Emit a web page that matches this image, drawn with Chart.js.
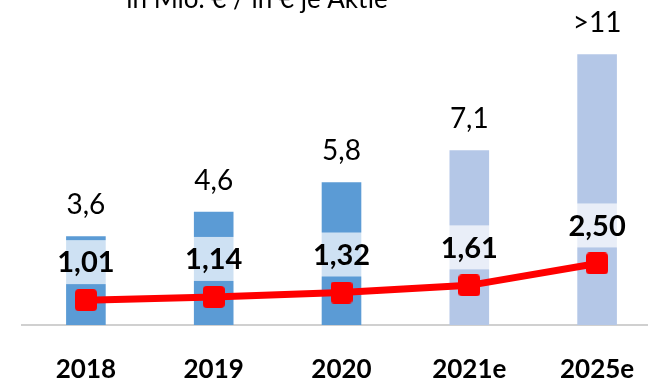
<!DOCTYPE html>
<html>
<head>
<meta charset="utf-8">
<script src="https://cdn.jsdelivr.net/npm/chart.js@4"></script>
<style>
  html, body { margin: 0; padding: 0; overflow: hidden; background: #fff; }
  #wrap { width: 680px; height: 381px; }
</style>
</head>
<body>
<div id="wrap"><canvas id="grafico-umsatz"></canvas></div>
<script>
var jahre = ["2018", "2019", "2020", "2021e", "2025e"];
var umsatz = [3.6, 4.6, 5.8, 7.1, 11];
var umsatzPrefix = ["", "", "", "", ">"];
var ergebnisJeAktie = [1.01, 1.14, 1.32, 1.61, 2.5];
var istWerte = 3; // 2018-2020 are actuals, the rest estimates

var FONT = "Lato, 'Open Sans', sans-serif";

function zahl(v, stellen) {
  if (stellen === 1 && Number.isInteger(v)) return String(v);
  return v.toFixed(stellen).replace(".", ",");
}

// rounded square marker for the line
var marker = document.createElement("canvas");
marker.width = 22;
marker.height = 22;
var mctx = marker.getContext("2d");
mctx.fillStyle = "#ff0000";
mctx.beginPath();
mctx.roundRect(0, 0, 22, 22, 4);
mctx.fill();

var labelPlugin = {
  id: "labels",
  afterDatasetsDraw: function (chart) {
    var ctx = chart.ctx;
    ctx.save();

    // title line at the top edge
    ctx.fillStyle = "#000";
    ctx.font = "26px " + FONT;
    ctx.textAlign = "center";
    ctx.textBaseline = "alphabetic";
    ctx.fillText("in Mio. \u20ac / in \u20ac je Aktie", 257, 8);

    // revenue labels above the bars
    ctx.font = "28px " + FONT;
    ctx.textBaseline = "middle";
    chart.getDatasetMeta(0).data.forEach(function (bar, i) {
      ctx.fillText(umsatzPrefix[i] + zahl(umsatz[i], 1), bar.x, bar.y - 31);
    });

    // EPS labels with a pale box behind them
    ctx.font = "bold 29px " + FONT;
    chart.getDatasetMeta(1).data.forEach(function (pt, i) {
      var txt = zahl(ergebnisJeAktie[i], 2);
      var cy = pt.y - 38;
      var w = ctx.measureText(txt).width + 10;
      ctx.fillStyle = "rgba(255,255,255,0.7)";
      ctx.fillRect(pt.x - w / 2, cy - 22, w, 44);
      ctx.fillStyle = "#000";
      ctx.fillText(txt, pt.x, cy + 1);
    });

    ctx.restore();
  },
};

new Chart(document.getElementById("grafico-umsatz").getContext("2d"), {
  data: {
    labels: jahre,
    datasets: [
      {
        type: "bar",
        label: "Umsatz",
        data: umsatz,
        backgroundColor: umsatz.map(function (v, i) {
          return i < istWerte ? "#5b9bd5" : "#b4c7e7";
        }),
        categoryPercentage: 1,
        barPercentage: 0.31,
        order: 2,
      },
      {
        type: "line",
        label: "Ergebnis je Aktie",
        data: ergebnisJeAktie,
        borderColor: "#ff0000",
        borderWidth: 7,
        pointStyle: marker,
        pointRadius: 11,
        pointHoverRadius: 11,
        tension: 0,
        order: 1,
      },
    ],
  },
  options: {
    responsive: true,
    maintainAspectRatio: false,
    animation: false,
    layout: {
      autoPadding: false,
      padding: { left: 22, right: 19, top: 0, bottom: 0 },
    },
    plugins: {
      legend: { display: false },
      title: { display: false },
      tooltip: { enabled: false },
    },
    scales: {
      x: {
        grid: { display: false, drawTicks: false },
        border: { display: true, color: "#d0d0d0", width: 2 },
        ticks: {
          color: "#000",
          padding: 32,
          font: { family: FONT, size: 26, weight: "bold", lineHeight: 1 },
        },
        afterFit: function (scale) {
          scale.height = 56;
        },
      },
      y: {
        display: false,
        min: 0,
        max: 13.2,
      },
    },
  },
  plugins: [labelPlugin],
});
</script>
</body>
</html>
